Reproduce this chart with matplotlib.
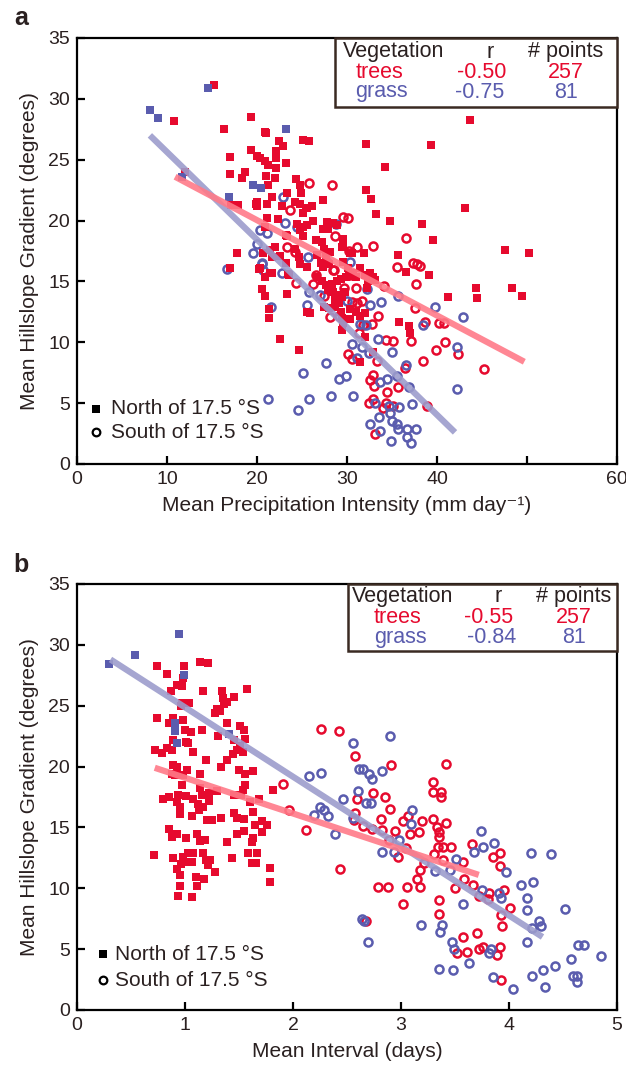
import matplotlib
matplotlib.use("Agg")
import matplotlib.pyplot as plt
from matplotlib.patches import Rectangle
import numpy as np

plt.rcParams['font.family'] = ['Liberation Sans', 'DejaVu Sans']

RED = '#e60a2e'
BLUE = '#5a5cae'
TXT = '#2a2020'
PINK_LINE = '#ff7a88'
BLUE_LINE = '#9c9ccc'

# ---------------- Panel a data (Mean Precipitation Intensity, mm/day) -----------
a_grass_north_x = [8.1, 9.0, 14.6, 23.2, 11.7, 16.9, 19.6, 20.4]
a_grass_north_y = [29.1, 28.4, 30.9, 27.5, 23.6, 21.9, 22.9, 22.7]

a_trees_north = [
    (15.2, 31.1), (10.8, 28.2), (19.3, 28.5), (16.3, 27.5), (20.9, 27.3), (22.4, 26.5), (22.9, 26.1),
    (25.1, 26.6), (25.8, 26.5), (32.1, 26.3), (39.3, 26.2), (34.2, 24.4), (19.3, 25.8), (20.0, 25.3),
    (20.3, 25.1), (20.9, 24.9), (21.2, 24.6), (22.1, 25.7), (22.1, 25.1), (22.1, 24.3), (23.2, 24.7),
    (17.0, 25.2), (17.0, 23.8), (18.3, 23.5), (18.7, 24.0), (21.0, 23.7), (22.0, 23.5), (12.0, 24.0),
    (17.1, 21.3), (17.9, 21.3), (19.9, 21.4), (21.1, 21.4), (24.3, 23.4), (24.8, 22.9), (24.9, 22.3),
    (21.7, 21.9), (22.8, 21.2), (23.3, 22.3), (27.3, 21.7), (32.1, 22.5), (32.7, 21.8), (33.2, 20.5),
    (34.8, 20.0), (38.3, 19.7), (39.6, 18.4), (24.2, 21.5), (25.1, 20.6), (26.1, 21.2), (25.6, 21.0),
    (21.1, 20.2), (22.3, 20.1), (23.2, 18.8), (24.4, 19.7), (25.1, 18.7), (26.2, 20.0), (27.8, 19.9),
    (27.3, 19.3), (28.4, 19.8), (20.9, 19.5), (17.8, 17.3), (17.0, 16.1), (20.3, 16.1), (21.4, 15.7),
    (35.7, 17.2), (36.6, 15.8), (39.1, 15.5), (29.6, 17.9), (30.3, 17.3), (31.9, 17.3), (43.7, 28.3),
    (43.1, 21.0), (47.6, 17.6), (50.2, 17.3), (48.3, 14.5), (49.4, 13.8), (44.3, 14.5), (41.2, 13.7),
    (44.4, 13.6), (35.8, 11.7), (36.9, 11.3), (37.0, 10.8), (32.9, 9.2), (31.4, 8.4), (32.0, 10.4),
    (22.6, 10.3), (24.7, 9.4), (21.3, 12.7), (21.3, 12.0), (20.6, 14.4), (20.9, 13.8), (20.2, 16.0),
    (23.3, 14.0), (25.6, 12.5), (25.9, 12.4), (30.3, 11.9), (29.4, 11.0), (29.6, 11.6), (21.0, 27.2),
    (21.2, 22.9), (20.0, 21.5), (20.0, 21.2), (24.8, 21.4), (25.4, 21.0), (25.1, 19.5), (25.6, 19.6),
    (24.8, 19.2), (28.9, 19.6), (27.9, 19.3), (23.3, 18.7), (26.6, 18.4), (27.2, 18.2), (27.4, 17.7),
    (29.6, 18.5), (29.4, 17.8), (30.6, 17.3), (20.7, 17.3), (21.4, 17.6), (21.7, 17.0), (22.0, 17.8),
    (22.6, 17.1), (24.2, 17.7), (24.7, 17.0), (26.7, 17.2), (27.7, 17.0), (28.1, 17.4), (20.9, 15.4),
    (23.2, 16.5), (23.4, 15.6), (25.6, 16.2), (29.6, 16.6), (30.1, 16.1), (30.7, 15.7), (31.4, 16.1),
    (32.0, 15.5), (32.6, 15.7), (32.9, 15.4), (21.7, 15.7), (23.6, 15.5), (24.8, 16.4), (27.1, 16.5),
    (27.3, 16.2), (28.0, 16.4), (26.7, 15.4), (27.2, 15.0), (27.7, 14.7), (28.3, 14.8), (28.9, 15.0),
    (29.3, 15.2), (29.9, 15.4), (30.2, 15.5), (31.0, 15.4), (32.3, 15.5), (33.1, 15.1), (27.9, 14.3),
    (28.4, 14.1), (28.9, 13.9), (28.7, 13.5), (29.4, 13.7), (29.8, 14.1), (27.4, 12.9), (28.0, 12.8),
    (28.7, 12.9), (29.1, 13.2), (29.3, 12.5), (29.4, 12.0), (30.3, 12.7), (31.0, 12.5), (31.4, 12.2),
    (32.0, 12.4), (32.2, 14.5), (32.3, 15.0),
]
a_trees_north_x = [p[0] for p in a_trees_north]
a_trees_north_y = [p[1] for p in a_trees_north]

a_trees_south = [
    (35.5, 16.2), (37.3, 16.5), (37.8, 16.4), (38.1, 16.3), (37.7, 14.8), (34.1, 14.6), (37.6, 12.8),
    (38.7, 11.7), (40.8, 11.6), (40.9, 10.0), (39.9, 9.4), (42.3, 9.0), (38.4, 8.5), (37.1, 10.1),
    (34.3, 10.2), (35.1, 10.1), (33.3, 8.5), (30.1, 9.0), (30.6, 8.6), (32.9, 7.3), (33.0, 6.4),
    (32.6, 6.9), (34.4, 5.9), (35.7, 6.3), (34.3, 5.0), (32.4, 5.0), (32.9, 5.3), (35.1, 4.8),
    (34.0, 4.6), (38.9, 4.8), (33.1, 2.5), (36.4, 7.9), (31.3, 10.8), (32.8, 11.5), (33.4, 12.2),
    (31.8, 11.4), (45.2, 7.8), (40.2, 11.6), (25.8, 23.1), (28.3, 22.9), (23.7, 20.9), (29.6, 20.3),
    (30.1, 20.2), (28.7, 18.7), (31.1, 17.8), (32.9, 17.9), (23.3, 17.8), (30.2, 17.5), (26.6, 15.5),
    (28.4, 15.9), (24.2, 17.4), (36.6, 18.6), (24.3, 14.9), (26.2, 14.8), (27.4, 13.8), (28.6, 15.9),
    (31.0, 14.5), (30.6, 13.3), (31.1, 13.2), (31.7, 13.4), (28.1, 12.1), (29.1, 12.2), (30.3, 15.5),
    (29.7, 14.5),
]
a_trees_south_x = [p[0] for p in a_trees_south]
a_trees_south_y = [p[1] for p in a_trees_south]

a_grass_south = [
    (22.9, 21.9), (23.1, 19.8), (24.4, 19.5), (20.3, 19.2), (21.1, 19.0), (20.0, 18.1), (19.6, 17.3),
    (20.6, 16.5), (16.7, 16.0), (20.7, 15.9), (22.8, 15.7), (25.7, 17.0), (27.8, 16.6), (30.3, 16.6),
    (28.8, 19.7), (25.8, 14.1), (21.6, 12.9), (25.6, 13.1), (32.2, 14.4), (33.8, 13.3), (32.6, 13.1),
    (35.7, 13.8), (31.4, 11.5), (32.1, 11.4), (30.6, 9.9), (31.7, 9.6), (33.4, 10.3), (32.4, 9.1),
    (35.0, 9.2), (31.1, 8.7), (27.7, 8.3), (25.1, 7.5), (29.1, 7.0), (29.9, 7.2), (33.7, 6.7),
    (34.4, 7.0), (35.6, 7.2), (36.6, 8.1), (36.9, 6.3), (21.2, 5.3), (24.6, 4.4), (25.8, 5.3),
    (28.2, 5.6), (30.7, 5.6), (33.1, 5.0), (34.7, 4.8), (35.8, 4.7), (37.2, 4.9), (33.6, 3.9),
    (34.8, 4.2), (32.6, 3.3), (35.0, 3.5), (35.6, 3.3), (33.7, 2.7), (35.7, 2.9), (36.7, 2.9),
    (37.7, 2.9), (36.7, 2.2), (34.9, 1.9), (37.1, 1.7), (42.2, 9.6), (42.2, 6.2), (39.8, 12.9),
    (42.9, 12.1), (38.4, 11.4), (27.0, 13.9), (30.0, 13.4), (20.6, 16.4),
]
a_grass_south_x = [p[0] for p in a_grass_south]
a_grass_south_y = [p[1] for p in a_grass_south]

a_trees_fit_x = [10.9, 49.7]
a_trees_fit_y = [23.6, 8.4]
a_grass_fit_x = [8.1, 42.0]
a_grass_fit_y = [27.0, 2.6]

a_stats = [("trees", "-0.50", "257"), ("grass", "-0.75", "81")]

# ---------------- Panel b data (Mean Interval, days) -----------
b_grass_north_x = [0.30, 0.54, 0.94, 0.99, 0.91, 0.91, 0.93, 1.41]
b_grass_north_y = [28.4, 29.2, 30.9, 27.5, 23.6, 22.9, 21.9, 22.7]

b_trees_north = [
    (0.744, 28.3), (0.836, 27.6), (0.991, 28.3), (1.139, 28.6), (1.216, 28.5), (0.985, 27.3), (0.867, 26.2),
    (0.923, 26.7), (0.969, 26.6), (1.164, 26.2), (1.340, 26.2), (1.349, 25.6), (1.361, 25.1), (1.386, 25.3),
    (1.454, 25.7), (1.571, 26.4), (1.293, 24.7), (1.278, 24.4), (1.324, 24.6), (0.969, 25.2), (0.960, 25.0),
    (1.040, 25.2), (0.744, 24.0), (0.855, 23.6), (0.892, 24.0), (0.985, 23.8), (1.000, 23.0), (1.056, 22.8),
    (1.154, 23.0), (1.309, 22.5), (1.386, 23.6), (1.509, 23.3), (1.546, 23.0), (1.556, 22.3), (1.454, 22.2),
    (1.509, 21.7), (1.534, 21.2), (1.478, 21.4), (0.886, 22.2), (1.009, 22.0), (1.031, 21.9), (1.077, 21.2),
    (0.722, 21.4), (0.784, 21.1), (0.836, 21.5), (0.877, 21.4), (1.194, 20.5), (1.448, 21.0), (1.392, 20.5),
    (1.330, 20.0), (0.886, 20.1), (0.923, 20.0), (0.877, 19.4), (0.907, 19.3), (0.985, 19.3), (0.969, 18.5),
    (1.022, 19.7), (1.139, 19.4), (1.503, 19.7), (1.556, 19.4), (1.633, 19.6), (1.556, 18.5), (1.540, 18.1),
    (1.139, 18.2), (1.154, 17.7), (1.225, 17.8), (1.299, 18.0), (0.800, 17.3), (0.855, 17.5), (0.938, 17.7),
    (1.009, 17.6), (0.923, 17.1), (0.954, 16.7), (1.077, 17.3), (1.123, 16.9), (1.170, 16.7), (1.225, 17.2),
    (1.454, 17.7), (1.515, 17.7), (1.602, 17.1), (1.688, 17.3), (1.812, 18.1), (0.954, 16.1), (1.062, 15.9),
    (1.133, 16.4), (1.201, 15.6), (1.247, 15.6), (1.330, 15.8), (1.454, 16.2), (1.478, 15.8), (1.546, 15.7),
    (1.633, 16.3), (0.855, 14.9), (0.877, 14.2), (0.923, 14.5), (1.009, 14.1), (1.114, 14.5), (1.139, 13.9),
    (1.185, 14.0), (1.392, 13.8), (1.478, 14.5), (1.546, 14.7), (1.648, 15.2), (1.710, 15.5), (1.756, 15.2),
    (1.710, 14.6), (1.617, 13.8), (1.633, 14.1), (0.716, 12.7), (0.892, 12.5), (0.985, 12.6), (1.031, 12.9),
    (1.077, 12.9), (1.000, 12.2), (0.960, 12.0), (0.923, 11.6), (0.954, 11.1), (1.062, 12.2), (1.170, 12.9),
    (1.194, 12.3), (1.231, 12.3), (1.216, 11.9), (1.278, 11.3), (1.438, 12.5), (1.586, 12.9), (1.664, 12.9),
    (1.657, 12.1), (1.617, 12.1), (1.787, 11.7), (1.787, 10.5), (1.102, 10.9), (1.176, 10.8), (0.954, 10.2),
    (1.108, 10.2), (0.938, 9.4), (1.062, 9.3),
]
b_trees_north_x = [p[0] for p in b_trees_north]
b_trees_north_y = [p[1] for p in b_trees_north]

b_trees_south = [
    (2.256, 23.1), (2.429, 22.9), (2.577, 20.9), (2.904, 20.1), (3.417, 20.2), (1.904, 18.6), (1.966, 16.4),
    (2.120, 14.8), (2.435, 11.6), (2.596, 17.3), (2.738, 17.8), (2.849, 17.5), (2.898, 16.5), (2.577, 16.2),
    (2.565, 15.6), (2.651, 15.1), (2.728, 14.9), (2.815, 15.7), (2.827, 14.8), (2.944, 14.7), (2.886, 14.0),
    (2.975, 12.6), (3.046, 13.3), (3.022, 15.5), (3.068, 15.9), (3.198, 15.5), (3.293, 15.7), (3.414, 15.4),
    (3.299, 18.7), (3.293, 17.9), (3.367, 17.9), (3.367, 17.5), (3.330, 15.0), (3.355, 14.6), (3.355, 14.2),
    (3.346, 13.4), (3.392, 13.4), (3.460, 13.4), (3.306, 12.8), (3.392, 12.3), (3.213, 12.1), (3.176, 11.5),
    (3.151, 10.8), (3.176, 10.1), (3.052, 10.1), (2.883, 10.1), (2.790, 10.1), (3.022, 8.7), (3.355, 9.0),
    (3.355, 7.9), (3.500, 10.0), (3.577, 12.2), (3.654, 13.6), (3.586, 10.8), (3.664, 10.3), (3.725, 9.4),
    (3.806, 9.1), (3.818, 9.6), (3.855, 12.6), (3.917, 12.9), (3.917, 11.8), (3.954, 9.9), (4.009, 8.4),
    (3.923, 7.8), (3.932, 6.9), (3.571, 6.0), (3.707, 6.3), (3.614, 4.8), (3.516, 4.7), (3.725, 5.0),
    (3.762, 5.2), (3.892, 4.5), (3.917, 5.2), (3.923, 2.5), (2.676, 7.3), (3.083, 14.5), (3.170, 14.6),
]
b_trees_south_x = [p[0] for p in b_trees_south]
b_trees_south_y = [p[1] for p in b_trees_south]

b_grass_south = [
    (2.898, 22.5), (2.559, 21.9), (2.151, 19.2), (2.262, 19.5), (2.614, 19.8), (2.651, 19.8), (2.707, 19.4),
    (2.728, 19.0), (2.821, 19.6), (2.602, 18.0), (2.460, 17.3), (2.676, 17.0), (2.719, 17.0), (2.250, 16.7),
    (2.290, 16.4), (2.327, 15.9), (2.191, 16.0), (2.389, 14.5), (2.559, 15.8), (2.827, 13.0), (2.938, 13.0),
    (2.978, 14.0), (3.099, 16.4), (3.090, 15.3), (3.318, 11.4), (3.454, 11.5), (3.509, 12.4), (3.738, 14.7),
    (3.756, 13.4), (3.679, 13.0), (3.864, 13.7), (3.972, 11.3), (3.753, 9.9), (3.926, 9.2), (3.904, 9.6),
    (3.571, 8.7), (3.383, 7.0), (3.361, 6.4), (3.182, 7.0), (3.475, 5.6), (3.494, 5.0), (3.633, 3.9),
    (3.349, 3.4), (3.485, 3.3), (3.818, 4.7), (3.833, 5.0), (3.855, 2.7), (4.040, 1.7), (4.216, 2.8),
    (4.333, 1.9), (4.318, 3.3), (4.426, 3.6), (4.164, 5.6), (4.164, 8.2), (4.164, 9.2), (4.111, 10.3),
    (4.219, 10.5), (4.204, 12.9), (4.389, 12.8), (4.519, 8.3), (4.281, 7.3), (4.296, 6.9), (4.216, 6.7),
    (4.636, 5.3), (4.694, 5.3), (4.849, 4.4), (4.577, 4.2), (4.590, 2.8), (4.627, 2.8), (4.627, 2.3),
    (2.636, 7.5), (2.660, 7.3), (2.698, 5.6),
]
b_grass_south_x = [p[0] for p in b_grass_south]
b_grass_south_y = [p[1] for p in b_grass_south]

b_trees_fit_x = [0.72, 3.72]
b_trees_fit_y = [19.9, 11.1]
b_grass_fit_x = [0.31, 4.31]
b_grass_fit_y = [28.8, 6.0]

b_stats = [("trees", "-0.55", "257"), ("grass", "-0.84", "81")]

y_ticks = [0, 5, 10, 15, 20, 25, 30, 35]
a_xticks = [0, 10, 20, 30, 40, 50, 60]
a_xticklabels = ['0', '10', '20', '30', '40', '', '60']
b_xticks = [0, 1, 2, 3, 4, 5]

# ---------------- Figure -----------------
W, H = 626, 1067
fig = plt.figure(figsize=(W / 100, H / 100), dpi=100)

def px_axes(left, top, right, bottom):
    return fig.add_axes([left / W, 1 - bottom / H, (right - left) / W, (bottom - top) / H])

axA = px_axes(77, 38, 617, 464)
axB = px_axes(77, 584, 617, 1010)

SQ = dict(marker='s', ms=5.4, ls='none', mew=0)
CI = dict(marker='o', ms=5.8, ls='none', mfc='none', mew=1.8)

def draw_panel(ax, gn, tn, ts, gs, tfit, gfit, xlim, xticks, xticklabels, xlabel, stats, box_px, rows_px, cols_px, leg_px):
    ax.plot(ts[0], ts[1], mec=RED, zorder=3, **CI)
    ax.plot(gs[0], gs[1], mec=BLUE, zorder=3, **CI)
    ax.plot(tn[0], tn[1], color=RED, zorder=3, **SQ)
    ax.plot(gn[0], gn[1], color=BLUE, zorder=3, **SQ)
    ax.plot(gfit[0], gfit[1], color=BLUE_LINE, lw=4.5, alpha=0.9, solid_capstyle='butt', zorder=4)
    ax.plot(tfit[0], tfit[1], color=PINK_LINE, lw=4.5, alpha=0.9, solid_capstyle='butt', zorder=4)
    ax.set_xlim(*xlim)
    ax.set_ylim(0, 35)
    ax.set_xticks(xticks)
    ax.set_xticklabels(xticklabels)
    ax.set_yticks(y_ticks)
    ax.tick_params(direction='in', length=6, width=1.6, colors='black', labelcolor=TXT,
                   labelsize=14, pad=5)
    for s in ax.spines.values():
        s.set_linewidth(1.6)
        s.set_color('black')
    ax.set_xlabel(xlabel, fontsize=15, color=TXT, labelpad=6)
    ax.set_ylabel('Mean Hillslope Gradient (degrees)', fontsize=15, color=TXT, labelpad=7)

    # stats box (pixel coordinates converted to axes fraction)
    bb = ax.get_position()
    L, T, R, B = bb.x0 * W, (1 - bb.y1) * H, bb.x1 * W, (1 - bb.y0) * H
    fx = lambda p: (p - L) / (R - L)
    fy = lambda p: (B - p) / (B - T)
    bx0, by1 = box_px
    ax.add_patch(Rectangle((fx(bx0), fy(by1)), 1 - fx(bx0), 1 - fy(by1), transform=ax.transAxes,
                           facecolor='white', edgecolor='#3a2a22', lw=1.8, zorder=6, clip_on=False))
    r1, r2, r3 = rows_px
    c0, c1, c2, c1t, c1g = cols_px
    fs = 15.5
    ax.text(fx(c0), fy(r1), 'Vegetation', transform=ax.transAxes, ha='left', va='center', fontsize=fs, color=TXT, zorder=7)
    ax.text(fx(c1), fy(r1), 'r', transform=ax.transAxes, ha='center', va='center', fontsize=fs, color=TXT, zorder=7)
    ax.text(fx(c2), fy(r1), '# points', transform=ax.transAxes, ha='center', va='center', fontsize=fs, color=TXT, zorder=7)
    for (name, r, n), row, col, ccol, cx in [(stats[0], r2, RED, c1t[0], c1t[1]), (stats[1], r3, BLUE, c1g[0], c1g[1])]:
        ax.text(fx(ccol), fy(row), name, transform=ax.transAxes, ha='center', va='center', fontsize=fs, color=col, zorder=7)
        ax.text(fx(cx), fy(row), r, transform=ax.transAxes, ha='center', va='center', fontsize=fs, color=col, zorder=7)
        ax.text(fx(c2), fy(row), n, transform=ax.transAxes, ha='center', va='center', fontsize=fs, color=col, zorder=7)

    # north / south legend
    (mx, tx, yN, yS) = leg_px
    ax.plot([fx(mx)], [fy(yN)], transform=ax.transAxes, marker='s', ms=5.5, color='black', mew=0, ls='none', clip_on=False)
    ax.plot([fx(mx)], [fy(yS)], transform=ax.transAxes, marker='o', ms=5.5, mfc='none', mec='black', mew=1.6, ls='none', clip_on=False)
    ax.text(fx(tx), fy(yN), 'North of 17.5 °S', transform=ax.transAxes, ha='left', va='center', fontsize=15, color=TXT)
    ax.text(fx(tx), fy(yS), 'South of 17.5 °S', transform=ax.transAxes, ha='left', va='center', fontsize=15, color=TXT)

draw_panel(axA,
           (a_grass_north_x, a_grass_north_y), (a_trees_north_x, a_trees_north_y),
           (a_trees_south_x, a_trees_south_y), (a_grass_south_x, a_grass_south_y),
           (a_trees_fit_x, a_trees_fit_y), (a_grass_fit_x, a_grass_fit_y),
           (0, 60), a_xticks, a_xticklabels, 'Mean Precipitation Intensity (mm day⁻¹)', a_stats,
           box_px=(335, 107), rows_px=(52, 72, 92),
           cols_px=(343, 490, 566, (379, 482), (381, 480)),
           leg_px=(96, 111, 409, 432))

draw_panel(axB,
           (b_grass_north_x, b_grass_north_y), (b_trees_north_x, b_trees_north_y),
           (b_trees_south_x, b_trees_south_y), (b_grass_south_x, b_grass_south_y),
           (b_trees_fit_x, b_trees_fit_y), (b_grass_fit_x, b_grass_fit_y),
           (0, 5), b_xticks, [str(t) for t in b_xticks], 'Mean Interval (days)', b_stats,
           box_px=(348, 651), rows_px=(596, 617, 637),
           cols_px=(352, 498, 574, (398, 489), (400, 492)),
           leg_px=(103, 115, 954, 980))

fig.text(21 / W, 1 - 18 / H, 'a', fontsize=18, fontweight='bold', color=TXT, ha='center', va='center')
fig.text(21 / W, 1 - 565 / H, 'b', fontsize=18, fontweight='bold', color=TXT, ha='center', va='center')

fig.savefig('out.png', dpi=100)
